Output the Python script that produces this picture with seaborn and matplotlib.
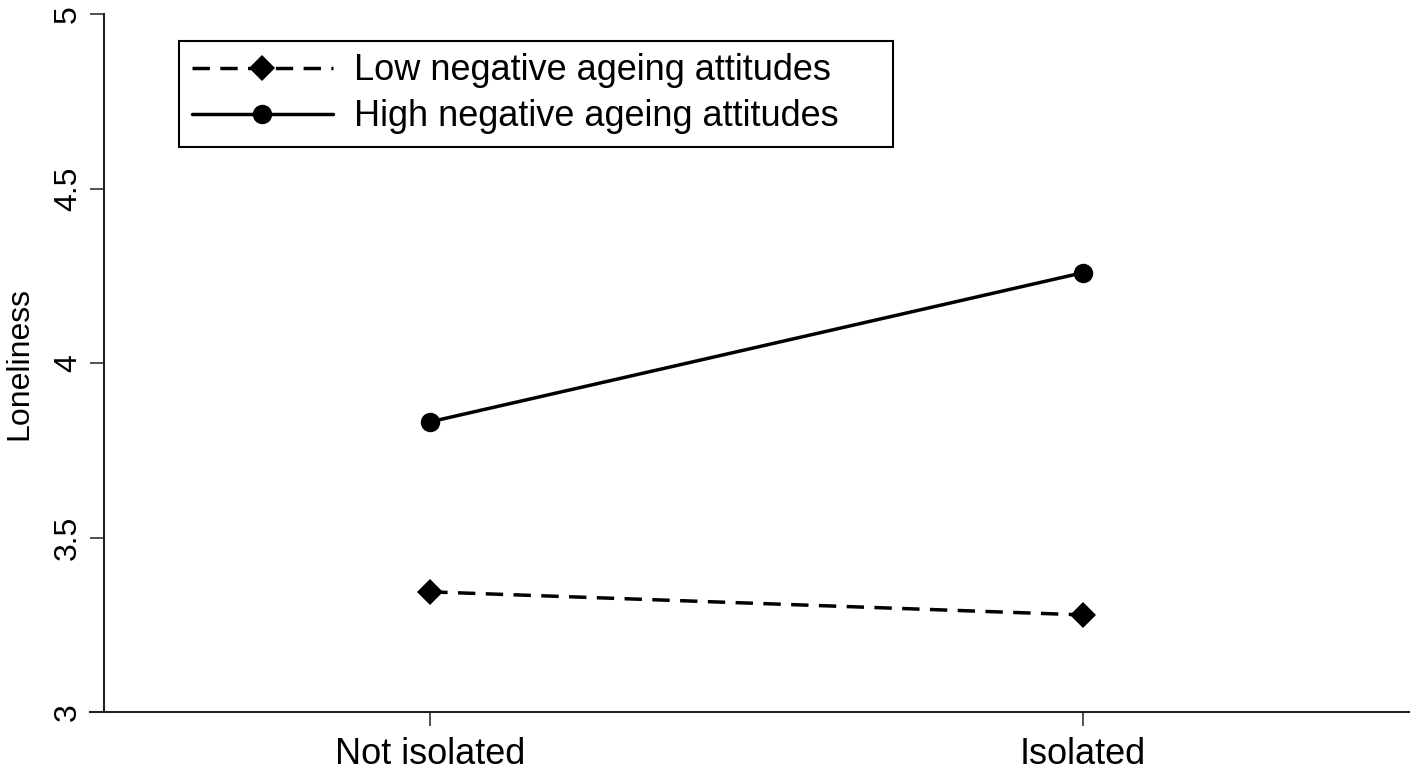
import pandas as pd
import matplotlib
matplotlib.use("Agg")
import matplotlib.pyplot as plt
import seaborn as sns

# values
categories = ["Not isolated", "Isolated"]
low_attitudes = [3.345, 3.279]
high_attitudes = [3.832, 4.259]
series_labels = ["Low negative ageing attitudes", "High negative ageing attitudes"]
y_ticks = [3, 3.5, 4, 4.5, 5]
y_tick_labels = ["3", "3.5", "4", "4.5", "5"]

sns.set_theme(style="ticks")
plt.rcParams["font.family"] = ["Liberation Sans", "DejaVu Sans"]
plt.rcParams["text.color"] = "black"

df = pd.DataFrame({
    "status": categories * 2,
    "loneliness": low_attitudes + high_attitudes,
    "group": [series_labels[0]] * 2 + [series_labels[1]] * 2,
})

W, H = 1418, 772
fig = plt.figure(figsize=(W / 100, H / 100), dpi=100)
ax = fig.add_axes([104 / W, 1 - 712.3 / H, 1305 / W, 698.3 / H])

styles = {
    series_labels[0]: dict(marker="D", markersize=13, linestyle=(0, (5, 3))),
    series_labels[1]: dict(marker="o", markersize=14, linestyle="-"),
}
for name in series_labels:
    sub = df[df["group"] == name]
    sns.lineplot(data=sub, x="status", y="loneliness", ax=ax, color="black",
                 linewidth=2.5, markeredgewidth=0, label=name, **styles[name])

ax.set_xlim(-0.5, 1.5)
ax.set_ylim(3, 5)
ax.set_yticks(y_ticks)
ax.set_yticklabels(y_tick_labels)
ax.set_xlabel("")
ax.set_ylabel("Loneliness", fontsize=23, color="black")
ax.yaxis.set_label_coords(-0.053, 0.5)

sns.despine(ax=ax)
for side in ["left", "bottom"]:
    ax.spines[side].set_linewidth(1.5)
    ax.spines[side].set_color("#222222")
ax.spines["bottom"].set_bounds(-0.5 - 14 / 652.5, 1.5)
ax.spines["bottom"].set_clip_on(False)

ax.tick_params(axis="both", length=10, width=1.1, color="#222222", labelcolor="black")
ax.tick_params(axis="x", labelsize=26, pad=8)
ax.tick_params(axis="y", labelsize=23, pad=5, labelrotation=90)
for lab in ax.get_yticklabels():
    lab.set_va("center")

leg = ax.legend(loc="upper left", bbox_to_anchor=(0.0575, 0.5, 0.547, 0.4618),
                mode="expand", borderaxespad=0,
                fontsize=26, frameon=True, fancybox=False, framealpha=1,
                edgecolor="black", handlelength=3.9, handletextpad=0.6,
                borderpad=0.35, labelspacing=0.3, numpoints=1, labelcolor="black")
leg.get_frame().set_linewidth(1.5)

fig.savefig("out.png", dpi=100, facecolor="white")
